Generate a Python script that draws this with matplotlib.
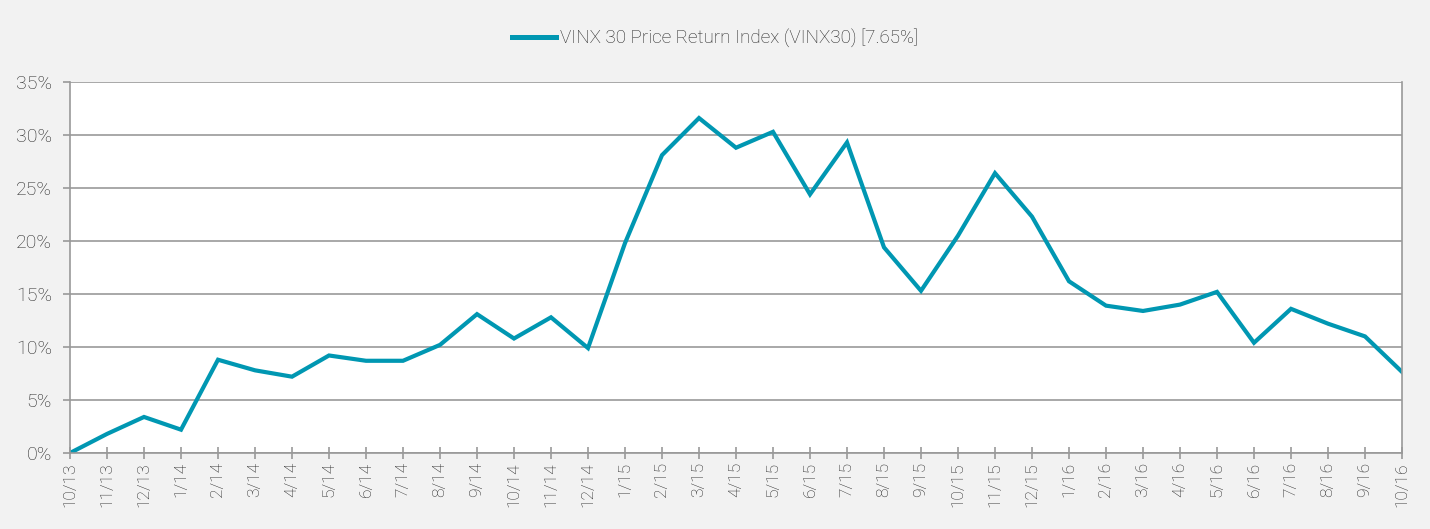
import numpy as np
import matplotlib
matplotlib.use("Agg")
from matplotlib import pyplot as plt
from matplotlib.ticker import FuncFormatter

labels = ["10/13", "11/13", "12/13", "1/14", "2/14", "3/14", "4/14", "5/14", "6/14",
          "7/14", "8/14", "9/14", "10/14", "11/14", "12/14", "1/15", "2/15", "3/15",
          "4/15", "5/15", "6/15", "7/15", "8/15", "9/15", "10/15", "11/15", "12/15",
          "1/16", "2/16", "3/16", "4/16", "5/16", "6/16", "7/16", "8/16", "9/16", "10/16"]
vinx30 = [0.0, 1.8, 3.4, 2.2, 8.8, 7.8, 7.2, 9.2, 8.7, 8.7, 10.2, 13.1, 10.8, 12.8, 9.9,
          19.8, 28.1, 31.6, 28.8, 30.3, 24.4, 29.3, 19.4, 15.3, 20.5, 26.4, 22.3,
          16.2, 13.9, 13.4, 14.0, 15.2, 10.4, 13.6, 12.2, 11.0, 7.65]

plt.rcParams['font.family'] = ['Roboto', 'DejaVu Sans']
plt.rcParams['font.weight'] = 'light'

fig = plt.figure(figsize=(14.3, 5.29), dpi=100, facecolor='#f2f2f2')
ax = fig.add_axes([70/1430, 76/529, 1332/1430, 371/529])
ax.set_facecolor('white')

x = np.arange(len(labels))
ax.plot(x, vinx30, color='#0097b2', lw=3.0, solid_joinstyle='miter',
        label='VINX 30 Price Return Index (VINX30) [7.65%]')

ax.set_xlim(0, len(labels) - 1)
ax.set_ylim(0, 35)
ax.set_yticks(np.arange(0, 36, 5))
ax.yaxis.set_major_formatter(FuncFormatter(lambda v, p: f"{v:.0f}%"))
ax.set_xticks(x)
ax.set_xticklabels(labels, rotation=90)

ax.grid(axis='y', color='#999999', lw=1.2)
ax.set_axisbelow(True)
for s in ['left', 'bottom', 'right']:
    ax.spines[s].set_color('#999999')
    ax.spines[s].set_linewidth(1.2)
ax.spines['top'].set_visible(False)
ax.tick_params(axis='x', direction='inout', length=9, color='#999999', width=1.2,
               labelsize=12.5, labelcolor='#262626', pad=2)
ax.tick_params(axis='y', direction='out', length=5, color='#999999', width=1.2,
               labelsize=14, labelcolor='#262626', pad=8)

leg = fig.legend(loc='center', bbox_to_anchor=(0.5, 1 - 38/529), frameon=False,
                 fontsize=13.6, handlelength=2.3, handletextpad=0.2)
for t in leg.get_texts():
    t.set_color('#262626')
for h in leg.get_lines():
    h.set_linewidth(3.6)

fig.savefig('out.png', dpi=100, facecolor=fig.get_facecolor())
